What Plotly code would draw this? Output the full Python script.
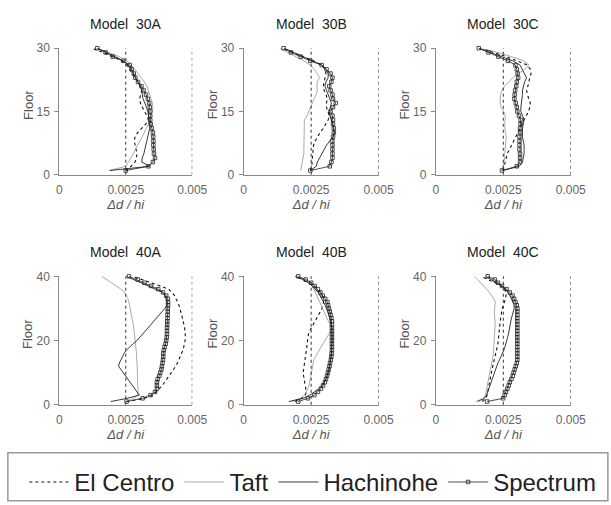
import plotly.graph_objects as go

# ---------------- data (drift values in units of 1e-3) ----------------
floors_30 = list(range(1, 31))
floors_40 = list(range(1, 41))

models = ["30A", "30B", "30C", "40A", "40B", "40C"]
records = ["El Centro", "Taft", "Hachinohe", "Spectrum"]

elcentro_30A = [2.48, 2.70, 2.85, 2.90, 2.92, 2.88, 2.85, 2.82, 2.85, 2.95, 3.10, 3.25, 3.35, 3.30, 3.20,
                3.12, 3.05, 3.02, 3.05, 3.10, 3.05, 2.95, 2.85, 2.75, 2.65, 2.55, 2.35, 2.00, 1.65, 1.20]
taft_30A = [1.89, 2.50, 2.60, 2.70, 2.78, 2.86, 2.93, 3.03, 3.12, 3.20, 3.28, 3.35, 3.40, 3.45, 3.50,
            3.52, 3.50, 3.45, 3.40, 3.35, 3.30, 3.20, 3.08, 2.95, 2.85, 2.72, 2.55, 2.25, 1.85, 1.30]
hachinohe_30A = [1.89, 3.40, 3.10, 3.12, 3.18, 3.22, 3.24, 3.28, 3.32, 3.36, 3.40, 3.40, 3.38, 3.36, 3.33,
                 3.28, 3.20, 3.15, 3.12, 3.10, 3.04, 2.96, 2.87, 2.78, 2.70, 2.60, 2.40, 2.10, 1.78, 1.45]
spectrum_30A = [2.50, 3.35, 3.52, 3.60, 3.56, 3.55, 3.54, 3.54, 3.53, 3.52, 3.48, 3.44, 3.42, 3.42, 3.42,
                3.40, 3.38, 3.33, 3.26, 3.17, 3.09, 2.96, 2.86, 2.80, 2.72, 2.65, 2.40, 2.01, 1.74, 1.43]

elcentro_30B = [2.47, 2.53, 2.53, 2.55, 2.55, 2.57, 2.59, 2.65, 2.73, 2.83, 2.95, 3.05, 3.13, 3.17, 3.13,
                3.07, 3.07, 3.10, 3.05, 2.98, 2.95, 2.98, 3.01, 3.05, 3.01, 2.89, 2.59, 2.23, 1.81, 1.41]
taft_30B = [2.11, 2.13, 2.17, 2.20, 2.23, 2.23, 2.23, 2.23, 2.23, 2.23, 2.23, 2.23, 2.25, 2.35, 2.41,
            2.47, 2.53, 2.61, 2.69, 2.73, 2.71, 2.73, 2.81, 2.73, 2.61, 2.47, 2.23, 1.93, 1.63, 1.33]
hachinohe_30B = [2.47, 2.69, 2.73, 2.81, 2.89, 2.98, 3.07, 3.19, 3.31, 3.37, 3.34, 3.29, 3.25, 3.19, 3.17,
                 3.22, 3.25, 3.19, 3.13, 3.07, 3.01, 3.05, 3.13, 3.13, 3.05, 2.89, 2.53, 2.17, 1.81, 1.51]
spectrum_30B = [2.47, 3.19, 3.25, 3.29, 3.29, 3.29, 3.29, 3.29, 3.31, 3.34, 3.34, 3.31, 3.31, 3.29, 3.22,
                3.31, 3.41, 3.31, 3.29, 3.22, 3.17, 3.25, 3.29, 3.22, 3.07, 2.89, 2.47, 2.11, 1.75, 1.48]

elcentro_30C = [2.49, 2.52, 2.57, 2.61, 2.64, 2.73, 2.81, 2.88, 2.97, 3.03, 3.12, 3.17, 3.27, 3.36, 3.44,
                3.48, 3.50, 3.44, 3.39, 3.36, 3.41, 3.44, 3.48, 3.53, 3.50, 3.39, 3.03, 2.61, 2.13, 1.71]
taft_30C = [2.43, 2.49, 2.52, 2.55, 2.55, 2.57, 2.57, 2.61, 2.61, 2.57, 2.55, 2.55, 2.57, 2.57, 2.52,
            2.42, 2.38, 2.38, 2.40, 2.45, 2.55, 2.70, 2.85, 3.05, 3.30, 3.45, 3.25, 2.80, 2.31, 1.61]
hachinohe_30C = [2.49, 3.09, 3.21, 3.24, 3.27, 3.27, 3.27, 3.24, 3.21, 3.21, 3.21, 3.24, 3.27, 3.21, 3.15,
                 3.15, 3.17, 3.21, 3.21, 3.21, 3.24, 3.29, 3.36, 3.29, 3.21, 3.12, 2.85, 2.43, 2.01, 1.59]
spectrum_30C = [2.45, 3.00, 3.12, 3.12, 3.12, 3.10, 3.10, 3.10, 3.10, 3.12, 3.12, 3.14, 3.14, 3.08, 3.02,
                3.00, 2.96, 2.91, 2.92, 2.94, 2.98, 3.00, 3.05, 3.03, 3.00, 2.95, 2.67, 2.31, 1.95, 1.59]

elcentro_40A = [2.53, 3.20, 3.54, 3.66, 3.78, 3.87, 3.96, 4.05, 4.14, 4.22, 4.30, 4.38, 4.44, 4.50, 4.55,
                4.60, 4.65, 4.68, 4.71, 4.73, 4.74, 4.74, 4.73, 4.71, 4.69, 4.66, 4.63, 4.60, 4.57, 4.54,
                4.50, 4.45, 4.40, 4.33, 4.25, 4.10, 3.80, 3.45, 3.10, 2.75]
taft_40A = [2.53, 2.78, 2.96, 2.97, 2.96, 2.95, 2.95, 2.95, 2.94, 2.94, 2.93, 2.93, 2.92, 2.92, 2.91,
            2.90, 2.89, 2.88, 2.87, 2.86, 2.85, 2.84, 2.82, 2.80, 2.78, 2.76, 2.74, 2.72, 2.70, 2.68,
            2.65, 2.62, 2.58, 2.52, 2.45, 2.32, 2.15, 1.98, 1.80, 1.60]
hachinohe_40A = [1.94, 2.55, 3.01, 2.92, 2.83, 2.74, 2.65, 2.56, 2.47, 2.38, 2.29, 2.23, 2.26, 2.32, 2.36,
                 2.44, 2.52, 2.64, 2.78, 2.92, 3.03, 3.15, 3.26, 3.35, 3.45, 3.55, 3.66, 3.78, 3.88, 3.97,
                 4.05, 4.05, 4.02, 3.98, 3.88, 3.60, 3.35, 3.05, 2.80, 2.52]
spectrum_40A = [2.53, 3.13, 3.43, 3.60, 3.67, 3.67, 3.67, 3.70, 3.76, 3.80, 3.84, 3.86, 3.88, 3.90, 3.91,
                3.91, 3.93, 3.96, 4.00, 4.02, 4.04, 4.05, 4.05, 4.05, 4.06, 4.06, 4.07, 4.07, 4.08, 4.08,
                4.09, 4.09, 4.08, 4.02, 3.90, 3.72, 3.45, 3.20, 2.95, 2.62]

elcentro_40B = [1.90, 2.15, 2.28, 2.32, 2.30, 2.28, 2.25, 2.22, 2.20, 2.20, 2.22, 2.24, 2.26, 2.28, 2.30,
                2.32, 2.33, 2.34, 2.35, 2.36, 2.38, 2.40, 2.45, 2.52, 2.58, 2.65, 2.72, 2.78, 2.84, 2.90,
                2.94, 2.96, 2.95, 2.92, 2.85, 2.75, 2.60, 2.40, 2.20, 1.95]
taft_40B = [1.80, 2.10, 2.25, 2.32, 2.38, 2.42, 2.44, 2.46, 2.48, 2.50, 2.52, 2.54, 2.56, 2.60, 2.66,
            2.72, 2.80, 2.87, 2.94, 3.02, 3.10, 3.17, 3.23, 3.27, 3.20, 3.14, 3.08, 3.03, 2.98, 2.93,
            2.88, 2.83, 2.78, 2.72, 2.66, 2.60, 2.54, 2.42, 2.22, 1.95]
hachinohe_40B = [1.67, 2.20, 2.45, 2.65, 2.80, 2.90, 2.98, 3.05, 3.10, 3.14, 3.17, 3.19, 3.21, 3.23, 3.24,
                 3.25, 3.26, 3.27, 3.28, 3.28, 3.28, 3.28, 3.28, 3.27, 3.25, 3.23, 3.20, 3.16, 3.12, 3.08,
                 3.02, 2.96, 2.90, 2.84, 2.76, 2.66, 2.54, 2.40, 2.20, 1.90]
spectrum_40B = [2.02, 2.38, 2.62, 2.75, 2.86, 2.94, 3.01, 3.05, 3.09, 3.12, 3.15, 3.18, 3.20, 3.23, 3.25,
                3.26, 3.27, 3.27, 3.27, 3.27, 3.27, 3.27, 3.27, 3.27, 3.27, 3.27, 3.25, 3.22, 3.19, 3.16,
                3.13, 3.10, 3.02, 2.93, 2.84, 2.75, 2.63, 2.50, 2.30, 2.02]

elcentro_40C = [1.72, 1.85, 1.90, 1.92, 1.94, 1.96, 1.98, 2.00, 2.02, 2.05, 2.08, 2.11, 2.14, 2.17, 2.20,
                2.23, 2.26, 2.28, 2.30, 2.31, 2.32, 2.34, 2.35, 2.36, 2.37, 2.39, 2.40, 2.42, 2.43, 2.46,
                2.50, 2.55, 2.58, 2.60, 2.61, 2.55, 2.42, 2.20, 1.95, 1.66]
taft_40C = [1.48, 1.75, 1.84, 1.86, 1.88, 1.90, 1.92, 1.94, 1.96, 1.99, 2.02, 2.05, 2.08, 2.10, 2.12,
            2.13, 2.14, 2.15, 2.16, 2.17, 2.17, 2.17, 2.18, 2.19, 2.20, 2.19, 2.18, 2.17, 2.17, 2.18,
            2.19, 2.20, 2.15, 2.08, 1.98, 1.88, 1.78, 1.66, 1.55, 1.43]
hachinohe_40C = [1.55, 1.80, 1.88, 1.92, 1.96, 2.00, 2.04, 2.08, 2.12, 2.16, 2.20, 2.24, 2.30, 2.36, 2.42,
                 2.48, 2.52, 2.56, 2.60, 2.63, 2.66, 2.69, 2.71, 2.73, 2.75, 2.77, 2.80, 2.84, 2.88, 2.90,
                 2.90, 2.86, 2.80, 2.74, 2.68, 2.58, 2.45, 2.25, 2.05, 1.85]
spectrum_40C = [1.90, 2.49, 2.55, 2.60, 2.65, 2.70, 2.74, 2.80, 2.85, 2.88, 2.92, 2.96, 3.00, 3.02, 3.02,
                3.02, 3.02, 3.02, 3.02, 3.02, 3.02, 3.02, 3.02, 3.02, 3.02, 3.02, 3.02, 3.02, 3.02, 3.02,
                3.00, 2.95, 2.90, 2.84, 2.74, 2.62, 2.45, 2.30, 2.18, 1.92]

data = {
    "30A": [elcentro_30A, taft_30A, hachinohe_30A, spectrum_30A],
    "30B": [elcentro_30B, taft_30B, hachinohe_30B, spectrum_30B],
    "30C": [elcentro_30C, taft_30C, hachinohe_30C, spectrum_30C],
    "40A": [elcentro_40A, taft_40A, hachinohe_40A, spectrum_40A],
    "40B": [elcentro_40B, taft_40B, hachinohe_40B, spectrum_40B],
    "40C": [elcentro_40C, taft_40C, hachinohe_40C, spectrum_40C],
}

x_ticks = [0, 0.0025, 0.005]
limit_lines = [0.0025, 0.005]
y_ticks_30 = [0, 15, 30]
y_ticks_40 = [0, 20, 40]

# ---------------- layout geometry (pixels) ----------------
W, H = 611, 505
col_px = {"A": (58, 195), "B": (248, 387), "C": (446, 585)}
row_px = {"30": (43, 175), "40": (281, 415)}
title_y_px = {"30": 18, "40": 256}

FONT = "Liberation Sans, Arial, sans-serif"
styles = [
    dict(mode="lines", line=dict(color="#111", width=1.1, dash="dot")),
    dict(mode="lines", line=dict(color="#a0a0a0", width=0.9)),
    dict(mode="lines", line=dict(color="#222", width=0.9)),
    dict(mode="lines+markers", line=dict(color="#222", width=0.8),
         marker=dict(symbol="square-open", size=3.5, color="#222", line=dict(width=0.8))),
]

fig = go.Figure()
layout = dict(
    width=W, height=H, margin=dict(l=0, r=0, t=0, b=0),
    paper_bgcolor="white", plot_bgcolor="white",
    font=dict(family=FONT, size=12, color="#555"),
    showlegend=True,
)
shapes = []
annotations = []

for i, m in enumerate(models):
    k = i + 1
    xa = "x" if k == 1 else f"x{k}"
    ya = "y" if k == 1 else f"y{k}"
    story = m[:2]
    col = m[2]
    x0, x1 = col_px[col]
    ytop, ybot = row_px[story]
    floors = floors_30 if story == "30" else floors_40
    yt = y_ticks_30 if story == "30" else y_ticks_40
    for j, rec in enumerate(records):
        fig.add_trace(go.Scatter(
            x=[v * 1e-3 for v in data[m][j]], y=floors, name=rec,
            xaxis=xa, yaxis=ya, showlegend=(i == 0), cliponaxis=False,
            **styles[j]))
    layout[f"xaxis{k if k > 1 else ''}"] = dict(
        domain=[x0 / W, x1 / W], anchor=ya, range=[0, 0.005],
        tickvals=x_ticks, showgrid=False, zeroline=False,
        showline=True, linecolor="#888", linewidth=1, ticks="",
        ticklabelstandoff=4, tickfont=dict(size=12, color="#666"),
        title=dict(text="<i>Δd / hi</i>", standoff=1, font=dict(size=13, color="#555")),
    )
    layout[f"yaxis{k if k > 1 else ''}"] = dict(
        domain=[1 - ybot / H, 1 - ytop / H], anchor=xa, range=[0, yt[-1]],
        tickvals=yt, showgrid=False, zeroline=False,
        showline=True, linecolor="#888", linewidth=1, ticks="outside",
        ticklen=4, tickcolor="#888", ticklabelstandoff=2,
        tickfont=dict(size=12, color="#666"),
    )
    for lv in limit_lines:
        shapes.append(dict(type="line", xref=xa, yref=f"{ya} domain",
                           x0=lv, x1=lv, y0=0, y1=1,
                           line=dict(color="#333", width=1, dash="dot")))
    annotations.append(dict(text=f"Model  {m}", x=(x0 + x1) / 2 / W, y=1 - title_y_px[story] / H,
                            xref="paper", yref="paper", showarrow=False,
                            xanchor="center", yanchor="middle",
                            font=dict(size=14, color="#222")))
    annotations.append(dict(text="Floor", x=(x0 - 32) / W, y=1 - (ytop + ybot) / 2 / H + 0.014,
                            xref="paper", yref="paper", showarrow=False, textangle=-90,
                            xanchor="center", yanchor="middle",
                            font=dict(size=13, color="#555")))

# legend frame
shapes.append(dict(type="rect", xref="paper", yref="paper",
                   x0=5 / W, x1=1.02, y0=-0.02, y1=1 - 465 / H,
                   line=dict(color="#999", width=1.5), fillcolor="rgba(0,0,0,0)"))

layout["shapes"] = shapes
layout["annotations"] = annotations
layout["legend"] = dict(orientation="h", x=22 / W, xanchor="left", y=1 - 496 / H, yanchor="middle",
                        font=dict(size=24, color="#222"), bgcolor="rgba(0,0,0,0)",
                        itemwidth=40, tracegroupgap=0)
fig.update_layout(**layout)
fig.write_html("out.html")
